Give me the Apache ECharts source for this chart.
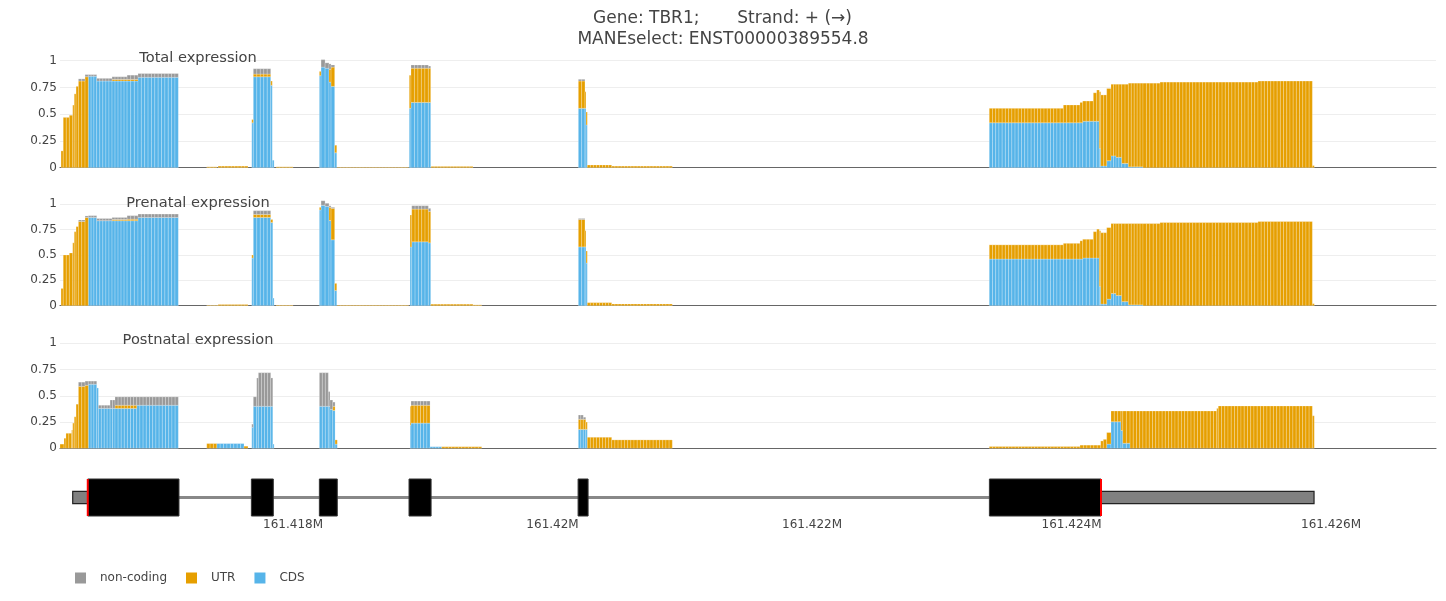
<!DOCTYPE html>
<html>
<head>
<meta charset="utf-8">
<script src="https://cdn.jsdelivr.net/npm/echarts@6/dist/echarts.min.js"></script>
<style>
  html, body { margin: 0; padding: 0; background: #fff; }
  #chart { width: 1446px; height: 601px; }
</style>
</head>
<body>
<div id="chart"></div>
<script>
// runs: [start, end, CDS, UTR, non-coding]
const totalRuns = [
  [161416212, 161416229, 0, 0.157, 0],
  [161416229, 161416276, 0, 0.47, 0],
  [161416276, 161416302, 0, 0.49, 0],
  [161416302, 161416314, 0, 0.585, 0],
  [161416314, 161416328, 0, 0.69, 0],
  [161416328, 161416346, 0, 0.76, 0],
  [161416346, 161416397, 0, 0.81, 0.02],
  [161416397, 161416422, 0, 0.85, 0.02],
  [161416422, 161416487, 0.855, 0, 0.015],
  [161416487, 161416605, 0.81, 0, 0.025],
  [161416605, 161416721, 0.81, 0.015, 0.025],
  [161416721, 161416805, 0.81, 0.015, 0.04],
  [161416805, 161417116, 0.845, 0, 0.035],
  [161417335, 161417412, 0, 0.008, 0],
  [161417422, 161417653, 0, 0.015, 0],
  [161417682, 161417694, 0.42, 0.03, 0],
  [161417694, 161417828, 0.85, 0.025, 0.05],
  [161417828, 161417840, 0.77, 0.04, 0],
  [161417840, 161417854, 0.07, 0, 0],
  [161417870, 161418000, 0, 0.008, 0],
  [161418203, 161418216, 0.86, 0.04, 0],
  [161418216, 161418247, 0.94, 0, 0.07],
  [161418247, 161418277, 0.93, 0, 0.05],
  [161418277, 161418293, 0.80, 0.12, 0.05],
  [161418293, 161418321, 0.76, 0.18, 0.02],
  [161418321, 161418337, 0.14, 0.07, 0],
  [161418341, 161418890, 0, 0.005, 0],
  [161418896, 161418909, 0.555, 0.31, 0],
  [161418909, 161419043, 0.61, 0.32, 0.03],
  [161419043, 161419061, 0.61, 0.32, 0.02],
  [161419064, 161419387, 0, 0.012, 0],
  [161420199, 161420250, 0.555, 0.255, 0.016],
  [161420250, 161420258, 0.555, 0.155, 0],
  [161420258, 161420268, 0.40, 0.12, 0],
  [161420268, 161420456, 0, 0.025, 0],
  [161420456, 161420923, 0, 0.015, 0],
  [161423366, 161423937, 0.42, 0.135, 0],
  [161423937, 161424065, 0.42, 0.166, 0],
  [161424065, 161424086, 0.42, 0.19, 0],
  [161424086, 161424168, 0.434, 0.189, 0],
  [161424168, 161424194, 0.434, 0.266, 0],
  [161424194, 161424214, 0.434, 0.292, 0],
  [161424214, 161424225, 0.18, 0.53, 0],
  [161424225, 161424271, 0.016, 0.664, 0],
  [161424271, 161424304, 0.065, 0.675, 0],
  [161424304, 161424343, 0.11, 0.67, 0],
  [161424343, 161424387, 0.097, 0.683, 0],
  [161424387, 161424438, 0.04, 0.74, 0],
  [161424438, 161424551, 0.008, 0.782, 0],
  [161424551, 161424682, 0, 0.79, 0],
  [161424682, 161425437, 0, 0.80, 0],
  [161425437, 161425856, 0, 0.81, 0],
  [161425856, 161425871, 0, 0.02, 0]
];

const prenatalRuns = [
  [161416212, 161416229, 0, 0.17, 0],
  [161416229, 161416276, 0, 0.50, 0],
  [161416276, 161416302, 0, 0.52, 0],
  [161416302, 161416314, 0, 0.62, 0],
  [161416314, 161416328, 0, 0.73, 0],
  [161416328, 161416346, 0, 0.78, 0],
  [161416346, 161416397, 0, 0.83, 0.015],
  [161416397, 161416422, 0, 0.87, 0.015],
  [161416422, 161416487, 0.87, 0, 0.018],
  [161416487, 161416605, 0.838, 0, 0.022],
  [161416605, 161416721, 0.838, 0.012, 0.02],
  [161416721, 161416805, 0.838, 0.015, 0.035],
  [161416805, 161417116, 0.87, 0, 0.034],
  [161417335, 161417422, 0, 0.005, 0],
  [161417422, 161417653, 0, 0.012, 0],
  [161417682, 161417694, 0.47, 0.03, 0],
  [161417694, 161417828, 0.87, 0.03, 0.037],
  [161417828, 161417844, 0.82, 0.03, 0],
  [161417844, 161417854, 0.075, 0, 0],
  [161417870, 161418000, 0, 0.006, 0],
  [161418203, 161418216, 0.944, 0.026, 0],
  [161418216, 161418247, 0.99, 0, 0.045],
  [161418247, 161418277, 0.98, 0, 0.03],
  [161418277, 161418293, 0.84, 0.13, 0.015],
  [161418293, 161418321, 0.65, 0.31, 0.01],
  [161418321, 161418337, 0.15, 0.07, 0],
  [161418341, 161418890, 0, 0.006, 0],
  [161418902, 161418915, 0.58, 0.314, 0],
  [161418915, 161419043, 0.63, 0.323, 0.033],
  [161419043, 161419061, 0.62, 0.31, 0.03],
  [161419061, 161419387, 0, 0.015, 0],
  [161419387, 161419454, 0, 0.008, 0],
  [161420199, 161420250, 0.58, 0.27, 0.01],
  [161420250, 161420258, 0.58, 0.16, 0],
  [161420258, 161420268, 0.42, 0.12, 0],
  [161420268, 161420456, 0, 0.03, 0],
  [161420456, 161420923, 0, 0.017, 0],
  [161423366, 161423937, 0.46, 0.14, 0],
  [161423937, 161424065, 0.46, 0.155, 0],
  [161424065, 161424086, 0.46, 0.18, 0],
  [161424086, 161424168, 0.47, 0.185, 0],
  [161424168, 161424194, 0.47, 0.26, 0],
  [161424194, 161424214, 0.47, 0.285, 0],
  [161424214, 161424225, 0.19, 0.55, 0],
  [161424225, 161424271, 0.016, 0.704, 0],
  [161424271, 161424304, 0.065, 0.705, 0],
  [161424304, 161424343, 0.12, 0.69, 0],
  [161424343, 161424387, 0.10, 0.71, 0],
  [161424387, 161424438, 0.04, 0.77, 0],
  [161424438, 161424551, 0.008, 0.802, 0],
  [161424551, 161424682, 0, 0.81, 0],
  [161424682, 161425437, 0, 0.82, 0],
  [161425437, 161425856, 0, 0.83, 0],
  [161425856, 161425871, 0, 0.02, 0]
];

const postnatalRuns = [
  [161416204, 161416235, 0, 0.04, 0],
  [161416235, 161416250, 0, 0.095, 0],
  [161416250, 161416294, 0, 0.143, 0],
  [161416294, 161416302, 0, 0.175, 0],
  [161416302, 161416314, 0, 0.24, 0],
  [161416314, 161416328, 0, 0.30, 0],
  [161416328, 161416346, 0, 0.42, 0],
  [161416346, 161416397, 0, 0.59, 0.04],
  [161416397, 161416422, 0, 0.60, 0.04],
  [161416422, 161416487, 0.61, 0, 0.03],
  [161416487, 161416500, 0.575, 0, 0],
  [161416500, 161416590, 0.38, 0, 0.03],
  [161416590, 161416628, 0.38, 0, 0.08],
  [161416628, 161416795, 0.38, 0.03, 0.08],
  [161416795, 161417116, 0.41, 0, 0.08],
  [161417335, 161417412, 0, 0.045, 0],
  [161417412, 161417622, 0.045, 0, 0],
  [161417622, 161417653, 0, 0.02, 0],
  [161417682, 161417694, 0.2, 0, 0.03],
  [161417694, 161417720, 0.40, 0, 0.09],
  [161417720, 161417733, 0.40, 0, 0.27],
  [161417733, 161417828, 0.40, 0, 0.32],
  [161417828, 161417844, 0.40, 0, 0.27],
  [161417844, 161417854, 0.04, 0, 0],
  [161418203, 161418272, 0.40, 0, 0.32],
  [161418272, 161418285, 0.40, 0, 0.14],
  [161418285, 161418306, 0.37, 0, 0.09],
  [161418306, 161418324, 0.36, 0.04, 0.04],
  [161418324, 161418341, 0.04, 0.04, 0],
  [161418902, 161418909, 0.22, 0.18, 0],
  [161418909, 161419056, 0.24, 0.17, 0.04],
  [161419056, 161419146, 0.015, 0, 0],
  [161419146, 161419454, 0, 0.015, 0],
  [161420199, 161420237, 0.18, 0.096, 0.041],
  [161420237, 161420256, 0.18, 0.096, 0.02],
  [161420256, 161420268, 0.18, 0.07, 0],
  [161420268, 161420456, 0, 0.105, 0],
  [161420456, 161420923, 0, 0.08, 0],
  [161423366, 161424065, 0, 0.017, 0],
  [161424065, 161424225, 0, 0.03, 0],
  [161424225, 161424245, 0, 0.07, 0],
  [161424245, 161424271, 0, 0.085, 0],
  [161424271, 161424304, 0.04, 0.11, 0],
  [161424304, 161424381, 0.253, 0.102, 0],
  [161424381, 161424395, 0.17, 0.185, 0],
  [161424395, 161424451, 0.048, 0.307, 0],
  [161424451, 161425119, 0, 0.355, 0],
  [161425119, 161425131, 0, 0.38, 0],
  [161425131, 161425856, 0, 0.403, 0],
  [161425856, 161425871, 0, 0.31, 0]
];

// gene model
const exons = [
  [161416302, 161417121],
  [161417679, 161417848],
  [161418203, 161418341],
  [161418894, 161419064],
  [161420197, 161420274],
  [161423367, 161425869]
];
const cdsStart = 161416418;
const cdsEnd = 161424227;

const panelTitles = ['Total expression', 'Prenatal expression', 'Postnatal expression'];
const yTicks = [0, 0.25, 0.5, 0.75, 1];
const xMin = 161416204;
const xMax = 161426809;
const binSize = 25;

const FONT = '"DejaVu Sans", Verdana, sans-serif';
const TXT = '#444';
const COLORS = { 'non-coding': '#999999', 'UTR': '#E69F00', 'CDS': '#56B4E9' };

const chart = echarts.init(document.getElementById('chart'));

// grids for the 3 panels + gene track
const panelGrids = [
  { top: 60.7, height: 107 },
  { top: 204.3, height: 101.4 },
  { top: 343.3, height: 105 }
];

function barRenderer(color) {
  return function (params, api) {
    const s = api.value(0), e = api.value(1);
    const y0 = api.value(2), y1 = api.value(3);
    if (!(y1 - y0 > 0)) return;
    const n = Math.max(1, Math.round((e - s) / binSize));
    const children = [];
    for (let i = 0; i < n; i++) {
      const a = s + (e - s) * i / n;
      const b = s + (e - s) * (i + 1) / n;
      const p0 = api.coord([a, y0]);
      const p1 = api.coord([b, y1]);
      children.push({
        type: 'rect',
        shape: { x: p0[0], y: p1[1], width: p1[0] - p0[0], height: p0[1] - p1[1] },
        style: { fill: color, stroke: 'rgba(255,255,255,0.45)', lineWidth: 0.5 }
      });
    }
    return { type: 'group', children: children };
  };
}

const series = [];
[totalRuns, prenatalRuns, postnatalRuns].forEach(function (runs, i) {
  const cds = runs.map(r => [r[0], r[1], 0, r[2]]);
  const utr = runs.map(r => [r[0], r[1], r[2], r[2] + r[3]]);
  const nc = runs.map(r => [r[0], r[1], r[2] + r[3], r[2] + r[3] + r[4]]);
  [['CDS', cds], ['UTR', utr], ['non-coding', nc]].forEach(function (d) {
    series.push({
      name: d[0],
      type: 'custom',
      xAxisIndex: i,
      yAxisIndex: i,
      clip: false,
      itemStyle: { color: COLORS[d[0]] },
      encode: { x: [0, 1], y: [2, 3] },
      renderItem: barRenderer(COLORS[d[0]]),
      data: d[1]
    });
  });
});

// intron line
series.push({
  type: 'custom',
  xAxisIndex: 3,
  yAxisIndex: 3,
  z: 1,
  encode: { x: [0, 1] },
  renderItem: function (params, api) {
    const p0 = api.coord([api.value(0), 0.5]);
    const p1 = api.coord([api.value(1), 0.5]);
    return {
      type: 'line',
      shape: { x1: p0[0], y1: p0[1], x2: p1[0], y2: p1[1] },
      style: { stroke: '#888', lineWidth: 3 }
    };
  },
  data: [[exons[0][0], exons[exons.length - 1][1]]]
});

// exon boxes
series.push({
  type: 'custom',
  xAxisIndex: 3,
  yAxisIndex: 3,
  z: 2,
  encode: { x: [0, 1] },
  renderItem: function (params, api) {
    const s = api.value(0), e = api.value(1);
    const parts = [];
    if (s < cdsStart) parts.push([s, Math.min(e, cdsStart), false]);
    if (e > cdsStart && s < cdsEnd) parts.push([Math.max(s, cdsStart), Math.min(e, cdsEnd), true]);
    if (e > cdsEnd) parts.push([Math.max(s, cdsEnd), e, false]);
    const children = parts.map(function (p) {
      const lo = p[2] ? 0 : 0.335;
      const hi = p[2] ? 1 : 0.665;
      const a = api.coord([p[0], lo]);
      const b = api.coord([p[1], hi]);
      return {
        type: 'rect',
        shape: { x: a[0], y: b[1], width: b[0] - a[0], height: a[1] - b[1] },
        style: p[2]
          ? { fill: '#000', stroke: '#333', lineWidth: 1 }
          : { fill: '#808080', stroke: '#222', lineWidth: 1.2 }
      };
    });
    return { type: 'group', children: children };
  },
  data: exons
});

// start / stop codon marks
series.push({
  type: 'custom',
  xAxisIndex: 3,
  yAxisIndex: 3,
  z: 3,
  encode: { x: 0 },
  renderItem: function (params, api) {
    const a = api.coord([api.value(0), 0]);
    const b = api.coord([api.value(0), 1]);
    return {
      type: 'line',
      shape: { x1: a[0], y1: a[1], x2: b[0], y2: b[1] },
      style: { stroke: '#ff0000', lineWidth: 2 }
    };
  },
  data: [[cdsStart], [cdsEnd]]
});

const grids = panelGrids.map(g => ({ left: 60, right: 10, top: g.top, height: g.height }));
grids.push({ left: 60, right: 10, top: 479, height: 37 });

const xAxes = [0, 1, 2, 3].map(function (i) {
  const isGene = i === 3;
  return {
    type: 'value',
    gridIndex: i,
    min: xMin,
    max: xMax,
    splitNumber: 5,
    splitLine: { show: false },
    axisTick: { show: false },
    axisLine: { show: !isGene, onZero: false, lineStyle: { color: '#666', width: 1.2 } },
    axisLabel: {
      show: isGene,
      margin: 3,
      color: TXT,
      fontSize: 12,
      fontFamily: FONT,
      showMinLabel: false,
      showMaxLabel: false,
      formatter: v => (v % 2000 === 0 ? (v / 1e6) + 'M' : '')
    }
  };
});

const yAxes = [0, 1, 2, 3].map(function (i) {
  if (i === 3) {
    return { type: 'value', gridIndex: 3, min: 0, max: 1, show: false };
  }
  return {
    type: 'value',
    gridIndex: i,
    min: yTicks[0],
    max: yTicks[yTicks.length - 1],
    interval: 0.25,
    axisLine: { show: false },
    axisTick: { show: false },
    splitLine: { lineStyle: { color: '#eeeeee', width: 1 } },
    axisLabel: { color: TXT, fontSize: 12, fontFamily: FONT, margin: 3 }
  };
});

const titleY = [58, 203.5, 340.5];
const graphics = [
  {
    type: 'text', x: 722.5, y: 19,
    style: { text: 'Gene: TBR1;       Strand: + (\u2192)', fill: TXT, font: '17px ' + FONT,
             align: 'center', verticalAlign: 'middle', textAlign: 'center', textVerticalAlign: 'middle' }
  },
  {
    type: 'text', x: 723, y: 40,
    style: { text: 'MANEselect: ENST00000389554.8', fill: TXT, font: '17px ' + FONT,
             align: 'center', verticalAlign: 'middle', textAlign: 'center', textVerticalAlign: 'middle' }
  }
];
panelTitles.forEach(function (t, i) {
  graphics.push({
    type: 'text', x: 198, y: titleY[i], z: 10,
    style: { text: t, fill: TXT, font: '14.6px ' + FONT,
             align: 'center', verticalAlign: 'middle', textAlign: 'center', textVerticalAlign: 'middle' }
  });
});

chart.setOption({
  animation: false,
  backgroundColor: '#fff',
  grid: grids,
  xAxis: xAxes,
  yAxis: yAxes,
  legend: {
    data: ['non-coding', 'UTR', 'CDS'],
    left: 70,
    top: 567,
    icon: 'rect',
    itemWidth: 11,
    itemHeight: 11,
    itemGap: 19,
    selectedMode: false,
    textStyle: { color: TXT, fontSize: 12, fontFamily: FONT, padding: [0, 0, 0, 9] }
  },
  graphic: graphics,
  series: series
});
</script>
</body>
</html>
